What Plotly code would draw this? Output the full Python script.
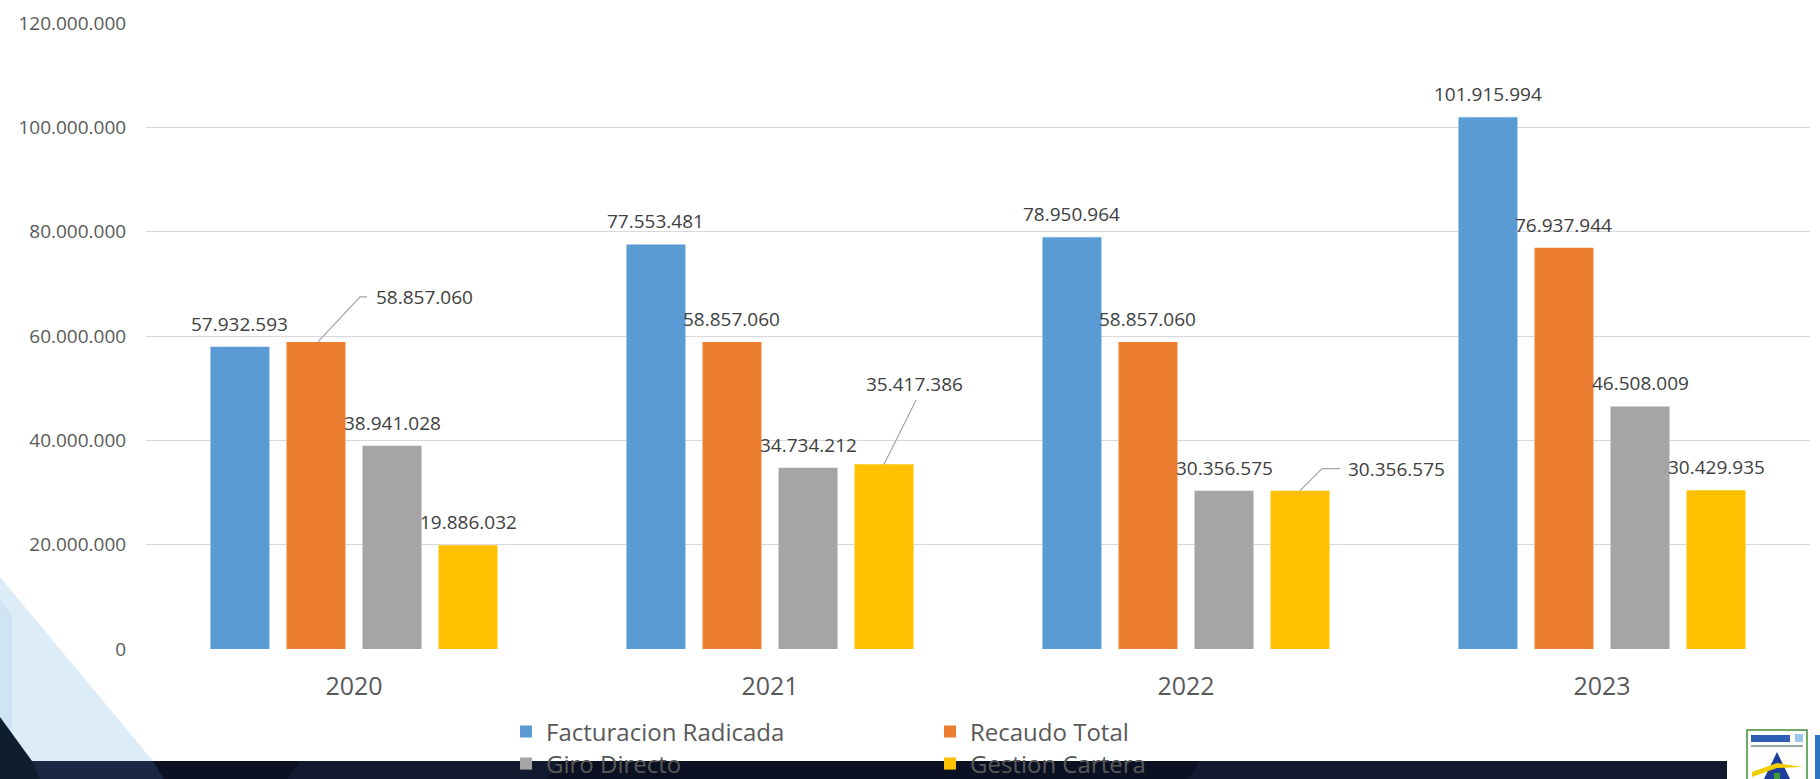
import plotly.graph_objects as go

# ---------------- data ----------------
years = ["2020", "2021", "2022", "2023"]
facturacion_radicada = [57932593, 77553481, 78950964, 101915994]
recaudo_total = [58857060, 58857060, 58857060, 76937944]
giro_directo = [38941028, 34734212, 30356575, 46508009]
gestion_cartera = [19886032, 35417386, 30356575, 30429935]
series_names = ["Facturacion Radicada", "Recaudo Total", "Giro Directo", "Gestion Cartera"]
y_tick_values = [0, 20000000, 40000000, 60000000, 80000000, 100000000, 120000000]

# ---------------- style ----------------
colors = ["#5B9BD5", "#ED7D31", "#A5A5A5", "#FFC000"]
FONT = "Open Sans"
W, H = 1820, 779
ML, MR, MT, MB = 146, 10, 23, 130
PW, PH = W - ML - MR, H - MT - MB
BARGAP, GROUPGAP = 0.269, 0.224
slot = (1 - BARGAP) / 4


def fmt(v):
    return f"{v:,}".replace(",", ".")


def px(x):
    return (x - ML) / PW


def py(y):
    return (H - MB - y) / PH


all_series = [facturacion_radicada, recaudo_total, giro_directo, gestion_cartera]
xs = list(range(len(years)))

fig = go.Figure()
for i, (name, vals) in enumerate(zip(series_names, all_series)):
    fig.add_trace(go.Bar(
        x=xs, y=vals, name=name, marker=dict(color=colors[i], line=dict(width=0)),
        legend="legend" if i < 2 else "legend2", hoverinfo="skip",
    ))

# label placement: (series index, category index) -> (xanchor, xshift, yshift, leader path)
moved = {
    (1, 0): ("left", 58, 45, "M2,0 L44,45 L51,45"),
    (3, 1): ("center", 30, 80, "M0,0 L32,64"),
    (3, 2): ("left", 46, 22, "M0,0 L22,22 L40,22"),
}

annotations = []
shapes = []
for i, vals in enumerate(all_series):
    for j, v in enumerate(vals):
        xc = j + (i - 1.5) * slot
        if (i, j) in moved:
            anchor, xsh, ysh, path = moved[(i, j)]
            annotations.append(dict(x=xc, y=v, xref="x", yref="y", text=fmt(v), showarrow=False,
                                    xanchor=anchor, yanchor="middle", xshift=xsh, yshift=ysh,
                                    font=dict(family=FONT, size=19, color="#404040")))
            shapes.append(dict(type="path", xref="x", yref="y", xsizemode="pixel", ysizemode="pixel",
                               xanchor=xc, yanchor=v, path=path,
                               line=dict(color="#A6A6A6", width=1.2), layer="above"))
        else:
            annotations.append(dict(x=xc, y=v, xref="x", yref="y", text=fmt(v), showarrow=False,
                                    xanchor="center", yanchor="middle", yshift=23,
                                    font=dict(family=FONT, size=19, color="#404040")))

# ---------------- background decoration (paper coords) ----------------
def poly(points, fill, layer="below"):
    d = "M" + " L".join(f"{px(a):.5f},{py(b):.5f}" for a, b in points) + " Z"
    return dict(type="path", xref="paper", yref="paper", path=d, fillcolor=fill,
                line=dict(width=0), layer=layer)

shapes += [
    poly([(0, 577), (153, 761), (0, 761)], "#DCEDF8"),
    poly([(0, 600), (12, 615), (12, 761), (0, 761)], "#CFE5F4"),
    poly([(0, 761), (1727, 761), (1727, 790), (0, 790)], "#0B1122"),
    poly([(30, 761), (153, 761), (170, 790), (40, 790)], "#1B2843"),
    poly([(0, 717), (32, 761), (45, 790), (0, 790)], "#0F1E2E"),
    poly([(300, 761), (560, 761), (540, 790), (280, 790)], "#121A30"),
    poly([(1200, 761), (1727, 761), (1727, 790), (1180, 790)], "#111A30"),
    # logo
    poly([(1747, 730), (1807, 730), (1807, 790), (1747, 790)], "#FFFFFF", "above"),
    poly([(1751, 735), (1790, 735), (1790, 742), (1751, 742)], "#2E5FB4", "above"),
    poly([(1795, 734), (1803, 734), (1803, 742), (1795, 742)], "#9CC7E8", "above"),
    poly([(1751, 745), (1803, 745), (1803, 747), (1751, 747)], "#9AA7A0", "above"),
    poly([(1763, 781), (1777, 752), (1791, 781)], "#1E3F99", "above"),
    poly([(1752, 772), (1777, 763), (1803, 767), (1777, 768), (1752, 777)], "#F2CE00", "above"),
    poly([(1774, 773), (1780, 773), (1780, 779), (1774, 779)], "#3E9B3A", "above"),
    poly([(1815, 735), (1822, 735), (1822, 790), (1815, 790)], "#2E75C8", "above"),
]
shapes.append(dict(type="rect", xref="paper", yref="paper", x0=px(1747), x1=px(1807), y0=py(730), y1=py(790),
                   line=dict(color="#3F8F3A", width=1.5), fillcolor="rgba(0,0,0,0)", layer="above"))

legend_common = dict(orientation="h", xanchor="left", yanchor="middle", bgcolor="rgba(0,0,0,0)",
                     font=dict(family=FONT, size=24, color="#595959"),
                     entrywidth=379, entrywidthmode="pixels", itemclick=False, itemdoubleclick=False)

fig.update_layout(
    width=W, height=H,
    margin=dict(l=ML, r=MR, t=MT, b=MB, autoexpand=False),
    paper_bgcolor="white", plot_bgcolor="rgba(0,0,0,0)",
    barmode="group", bargap=BARGAP, bargroupgap=GROUPGAP,
    separators=",.",
    font=dict(family=FONT, color="#595959"),
    xaxis=dict(range=[-0.5, 3.5], tickvals=xs, ticktext=years, showgrid=False, zeroline=False,
               showline=False, ticks="outside", ticklen=15, tickcolor="rgba(0,0,0,0)",
               tickfont=dict(family=FONT, size=25, color="#595959"), fixedrange=True),
    yaxis=dict(range=[0, 120000000], tickvals=y_tick_values, tickformat=",d", showgrid=True,
               gridcolor="#D9D9D9", gridwidth=1, zeroline=False, showline=False,
               ticks="outside", ticklen=15, tickcolor="rgba(0,0,0,0)",
               tickfont=dict(family=FONT, size=19, color="#595959"), fixedrange=True),
    legend=dict(x=px(506), y=py(732), **legend_common),
    legend2=dict(x=px(506), y=py(764), **legend_common),
    annotations=annotations,
    shapes=shapes,
    showlegend=True,
)

fig.write_html("out.html", config={"displayModeBar": False},
               post_script="document.body.style.margin='0';document.body.style.overflow='hidden';")
